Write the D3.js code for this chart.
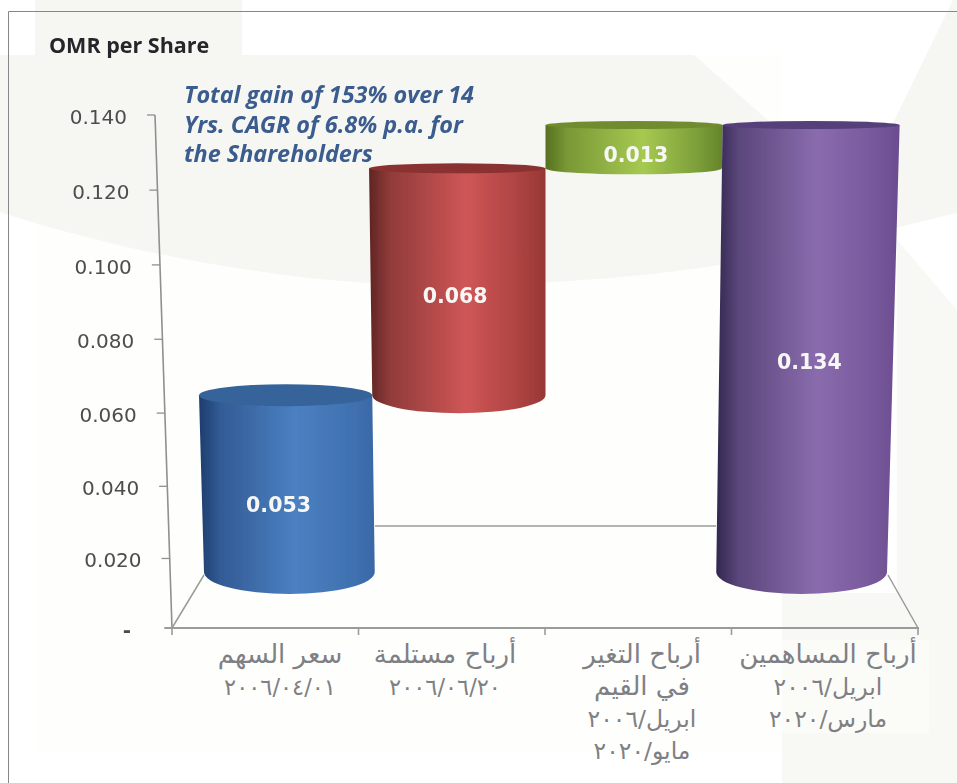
<!DOCTYPE html>
<html><head><meta charset="utf-8">
<script src="https://cdn.jsdelivr.net/npm/d3@7/dist/d3.min.js"></script>
<style>html,body{margin:0;padding:0;background:#fff}svg{display:block}</style>
</head><body><svg id="c" width="957" height="783"></svg>
<script>
const categories = ["a","b","c","d"];
const seriesStart = [0, 0.053, 0.121, 0];
const seriesValues = [0.053, 0.068, 0.013, 0.134];
const valueLabels = ["0.053","0.068","0.013","0.134"];
const axisTicks = [0,0.02,0.04,0.06,0.08,0.1,0.12,0.14];
const axisTickLabels = ["-","0.020","0.040","0.060","0.080","0.100","0.120","0.140"];
const categoryLines = [
  ["سعر السهم","٢٠٠٦/٠٤/٠١"],
  ["أرباح مستلمة","٢٠٠٦/٠٦/٢٠"],
  ["أرباح التغير","في القيم","ابريل/٢٠٠٦","مايو/٢٠٢٠"],
  ["أرباح المساهمين","ابريل/٢٠٠٦","مارس/٢٠٢٠"]];
const noteLines = ["Total gain of 153% over 14","Yrs. CAGR of 6.8% p.a. for","the Shareholders"];
const palette = [
  {dark:"#1d3d6e",mid:"#4b80c2",edge:"#3a68a6",top:"#35649a"},
  {dark:"#5f2523",mid:"#cf5656",edge:"#973735",top:"#8a3231"},
  {dark:"#55701f",mid:"#a6c951",edge:"#64842a",top:"#6f8c2f"},
  {dark:"#32274f",mid:"#8a6cae",edge:"#6b4c90",top:"#56407c"}];

const svg = d3.select("#c");
const defs = svg.append("defs");
defs.append("filter").attr("id","soft").append("feGaussianBlur").attr("stdDeviation",0.45);

// background watermark
const bg = svg.append("g");
bg.append("rect").attr("x",35).attr("y",55).attr("width",747).attr("height",698).attr("fill","#fefefc");
bg.append("path").attr("fill","#f6f7f2").attr("d","M35,0H242V55H694L864,205L892,125L953,0H957V213C900,226 800,254 700,268C600,282 480,288 370,283C240,275 100,245 0,212V55H35Z");
bg.append("path").attr("fill","#f8f8f4").attr("d","M897,240L957,310V783H782V593H897Z");
bg.append("rect").attr("x",782).attr("y",640).attr("width",147).attr("height",93).attr("fill","#fbfbf8");

// frame
svg.append("path").attr("d","M8.5,783V11.5H957").attr("fill","none").attr("stroke","#85878a").attr("stroke-width",1);

// scales
const floorY = 628, topY = 115;
const y = d3.scalePow().exponent(1.027).domain([0,0.14]).range([floorY,topY]);
const axisX = d3.scaleLinear().domain([0,0.14]).range([172,155]);
const band = d3.scaleBand().domain(categories).range([204,887]);
const cylY = d3.scaleLinear().domain([0,0.134]).range([572,125]);
const persp = d3.scaleLinear().domain([0,0.134]).range([1,1.037]);
const ryBottom = d3.scaleLinear().domain([0,0.053,0.121]).range([22,18,6]);
const ryTop = d3.scaleLinear().domain([0.053,0.121,0.134]).range([11,5,4]);
const floorTicks = d3.scaleLinear().domain([0,4]).range([172,918]);
const cx0 = 545.5;
const grey = "#9a9b9b";

// floor & axis
const axisG = svg.append("g").attr("filter","url(#soft)");
axisG.append("line").attr("x1",axisX(0)).attr("y1",y(0)).attr("x2",axisX(0.14)).attr("y2",y(0.14)).attr("stroke","#8f9090").attr("stroke-width",1.6);
axisTicks.forEach((t,i)=>{
  axisG.append("line").attr("x1",axisX(t)-8).attr("x2",axisX(t)).attr("y1",y(t)).attr("y2",y(t)).attr("stroke","#8f9090").attr("stroke-width",1.3);
  svg.append("text").attr("x",axisX(t)-(i==0?41:28)).attr("y",y(t)+9).attr("text-anchor","end")
    .attr("font-family","DejaVu Sans").attr("font-size",20).attr("font-weight",i==0?700:400).attr("fill","#4d4d4d")
    .attr("filter","url(#soft)").text(axisTickLabels[i]);
});
axisG.append("line").attr("x1",165).attr("x2",919).attr("y1",floorY).attr("y2",floorY).attr("stroke",grey).attr("stroke-width",2);
d3.range(5).forEach(i=>axisG.append("line").attr("x1",floorTicks(i)).attr("x2",floorTicks(i)).attr("y1",floorY).attr("y2",floorY+7).attr("stroke",grey).attr("stroke-width",1.6));
axisG.append("line").attr("x1",172).attr("y1",floorY).attr("x2",204).attr("y2",575).attr("stroke",grey).attr("stroke-width",1.5);
axisG.append("line").attr("x1",918).attr("y1",floorY).attr("x2",888).attr("y2",575).attr("stroke",grey).attr("stroke-width",1.5);
axisG.append("line").attr("x1",375).attr("x2",716).attr("y1",526).attr("y2",526).attr("stroke",grey).attr("stroke-width",1.6);

// gradients
palette.forEach((p,i)=>{
  const g = defs.append("linearGradient").attr("id","g"+i).attr("x1",0).attr("x2",1).attr("y1",0).attr("y2",0);
  [[0,p.dark],[0.12,d3.interpolateRgb(p.dark,p.mid)(0.45)],[0.55,p.mid],[0.85,d3.interpolateRgb(p.mid,p.edge)(0.6)],[1,p.edge]]
    .forEach(([o,c])=>g.append("stop").attr("offset",o).attr("stop-color",c));
});

// cylinders
const px = (i,v,side)=>{
  const c = band(categories[i]) + band.bandwidth()/2;
  return cx0 + (c + side*band.bandwidth()/2 - cx0)*persp(v);
};
[2,1,0,3].forEach(i=>{
  const v0 = seriesStart[i], v1 = v0 + seriesValues[i];
  const xl0=px(i,v0,-1), xr0=px(i,v0,1), xl1=px(i,v1,-1), xr1=px(i,v1,1);
  const y0=cylY(v0), y1=cylY(v1), r0=ryBottom(v0), r1=ryTop(v1);
  const rx0=(xr0-xl0)/2, rx1=(xr1-xl1)/2;
  const g = svg.append("g").attr("filter","url(#soft)");
  g.append("path").attr("fill",`url(#g${i})`)
   .attr("d",`M${xl1},${y1}L${xl0},${y0}A${rx0},${r0} 0 0 0 ${xr0},${y0}L${xr1},${y1}Z`);
  g.append("ellipse").attr("cx",(xl1+xr1)/2).attr("cy",y1).attr("rx",rx1).attr("ry",r1).attr("fill",palette[i].top);
});
// value labels sit near the middle of each cylinder
const labelDx = [-9,-3,2,3], labelDy = [22,15,9,14];
seriesValues.forEach((v,i)=>{
  const mid = seriesStart[i]+v/2;
  svg.append("text").attr("x",(px(i,mid,-1)+px(i,mid,1))/2+labelDx[i])
    .attr("y",cylY(mid)+labelDy[i]).attr("text-anchor","middle").attr("dominant-baseline","middle")
    .attr("font-family","DejaVu Sans").attr("font-weight",700).attr("font-size",20.5).attr("fill","#f7f7f5")
    .attr("filter","url(#soft)").text(valueLabels[i]);
});

// titles
svg.append("text").attr("x",49).attr("y",53).attr("font-family","Open Sans").attr("font-weight",700).attr("font-size",21.5)
  .attr("fill","#26282b").attr("filter","url(#soft)").text("OMR per Share");
noteLines.forEach((t,i)=>svg.append("text").attr("x",184).attr("y",[103,133,162][i])
  .attr("font-family","Open Sans").attr("font-weight",700).attr("font-style","italic").attr("font-size",23.4)
  .attr("fill","#3b5c8e").attr("filter","url(#soft)").text(t));

// category labels
const labelX = [280,445,642,828];
const isDate = t => /^[٠-٩\/]+$/.test(t);
const sizeOf = t => isDate(t) ? 22.5 : /[٠-٩]/.test(t) ? 23.5 : 26;
categoryLines.forEach((lines,i)=>lines.forEach((t,j)=>{
  svg.append("text").attr("x",labelX[i]).attr("y",663+j*32).attr("text-anchor","middle").attr("direction","rtl")
    .attr("letter-spacing",isDate(t)?-1.3:0)
    .attr("font-family","DejaVu Sans").attr("font-size",sizeOf(t)).attr("fill","#7e8084").text(t);
}));
</script></body></html>
